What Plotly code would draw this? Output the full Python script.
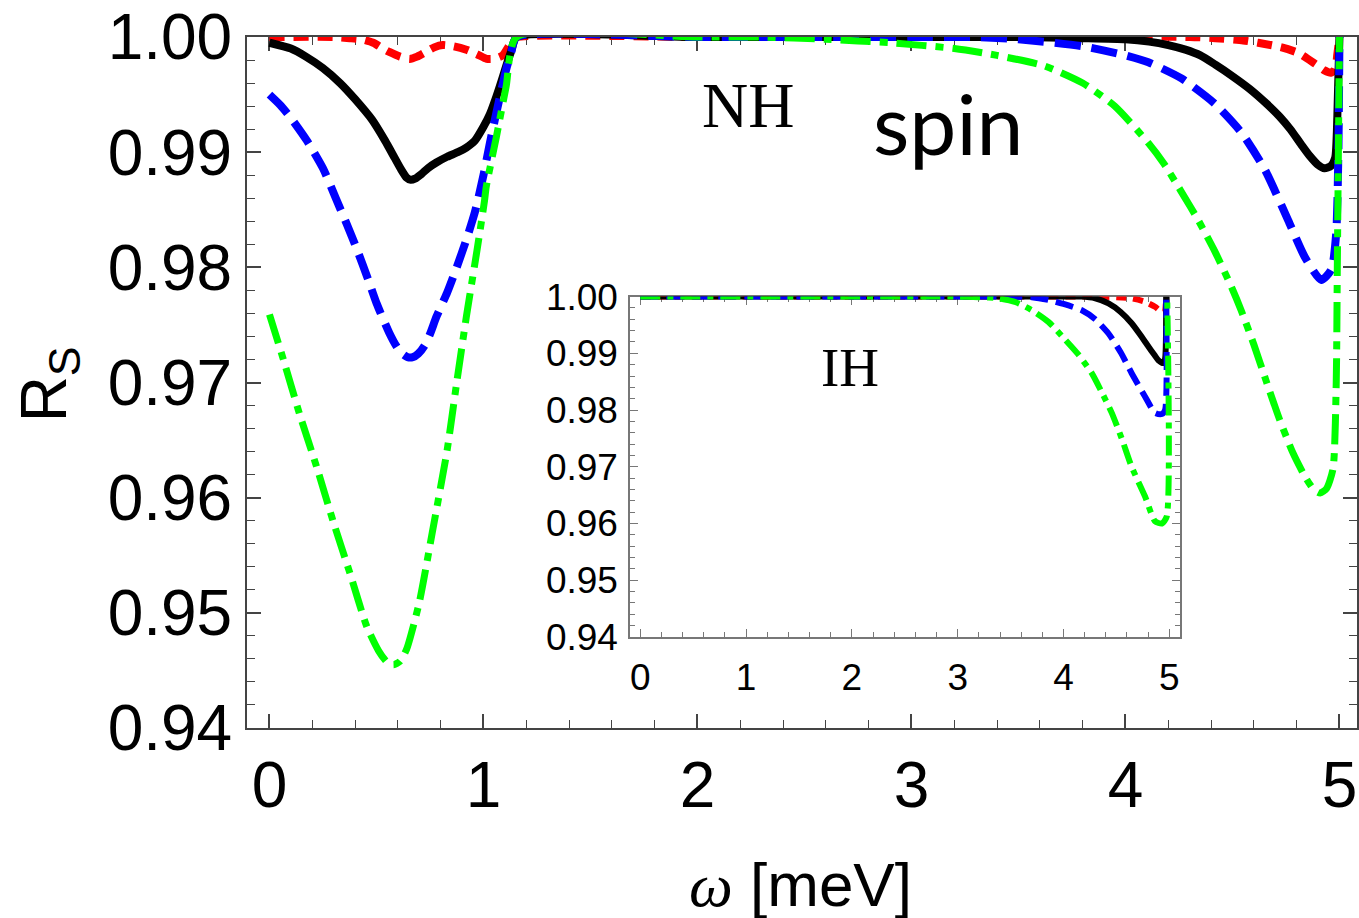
import plotly.graph_objects as go

# ---------------- data ----------------
# Main panel (NH)
nh_black_x = [0.00, 0.10, 0.17, 0.25, 0.33, 0.40, 0.48, 0.54, 0.585, 0.615, 0.64, 0.66, 0.68, 0.71, 0.74,
              0.78, 0.83, 0.88, 0.92, 0.96, 1.00, 1.03, 1.06, 1.09, 1.11, 1.13, 1.155, 2.00, 3.00, 3.50,
              3.80, 4.00, 4.11, 4.20, 4.28, 4.35, 4.42, 4.50, 4.58, 4.66, 4.72, 4.77, 4.82, 4.86, 4.90,
              4.93, 4.96, 4.98, 4.99, 5.00]
nh_black_y = [0.9995, 0.9990, 0.9983, 0.9973, 0.9960, 0.9946, 0.9928, 0.9910, 0.9895, 0.9885, 0.9878,
              0.9876, 0.9877, 0.9881, 0.9886, 0.9891, 0.9896, 0.9900, 0.9904, 0.9910, 0.9922, 0.9933,
              0.9948, 0.9965, 0.9977, 0.9988, 1.0000, 1.0000, 1.0000, 1.0000, 0.9999, 0.9998, 0.9996,
              0.9993, 0.9989, 0.9984, 0.9976, 0.9966, 0.9955, 0.9942, 0.9931, 0.9920, 0.9907, 0.9897,
              0.9889, 0.9886, 0.9888, 0.9895, 0.9930, 1.0000]

nh_red_x = [0.00, 0.30, 0.375, 0.43, 0.485, 0.53, 0.56, 0.61, 0.655, 0.69, 0.73, 0.77, 0.81, 0.86, 0.92,
            0.97, 1.015, 1.05, 1.09, 1.115, 1.135, 1.155, 2.00, 3.00, 4.30, 4.42, 4.55, 4.62, 4.73, 4.81,
            4.86, 4.90, 4.93, 4.96, 4.98, 4.99, 5.00]
nh_red_y = [1.0000, 1.0000, 0.9999, 0.9998, 0.9995, 0.9990, 0.9987, 0.9983, 0.9981, 0.9983, 0.9987,
            0.9991, 0.9993, 0.9992, 0.9989, 0.9985, 0.9981, 0.9981, 0.9984, 0.9991, 0.9997, 1.0000,
            1.0000, 1.0000, 1.0000, 0.9999, 0.9997, 0.9995, 0.9991, 0.9986, 0.9980, 0.9975, 0.9971,
            0.9969, 0.9972, 0.9985, 1.0000]

nh_blue_x = [0.00, 0.05, 0.095, 0.175, 0.25, 0.31, 0.36, 0.41, 0.46, 0.50, 0.56, 0.595, 0.62, 0.645,
             0.67, 0.695, 0.725, 0.75, 0.78, 0.83, 0.875, 0.92, 0.96, 1.00, 1.03, 1.06, 1.085, 1.105,
             1.13, 1.155, 2.00, 3.00, 3.30, 3.50, 3.80, 4.00, 4.107, 4.262, 4.418, 4.542, 4.651, 4.760,
             4.838, 4.915, 4.962, 4.985, 4.995, 5.00]
nh_blue_y = [0.9950, 0.9941, 0.9931, 0.9910, 0.9886, 0.9860, 0.9838, 0.9815, 0.9790, 0.9769, 0.9743,
             0.9731, 0.9725, 0.9722, 0.9722, 0.9725, 0.9732, 0.9742, 0.9757, 0.9778, 0.9800, 0.9824,
             0.9848, 0.9880, 0.9908, 0.9934, 0.9955, 0.9971, 0.9987, 1.0000, 1.0000, 1.0000, 1.0000,
             0.9998, 0.9992, 0.9984, 0.9978, 0.9964, 0.9942, 0.9917, 0.9885, 0.9841, 0.9809, 0.9789,
             0.9798, 0.9830, 0.9900, 1.0000]

nh_green_x = [0.00, 0.065, 0.14, 0.22, 0.30, 0.375, 0.455, 0.51, 0.55, 0.58, 0.61, 0.64, 0.70, 0.76, 0.83,
              0.875, 0.92, 0.97, 1.005, 1.013, 1.06, 1.106, 1.155, 2.00, 2.30, 2.60, 2.90, 3.20, 3.40,
              3.62, 3.80, 3.95, 4.107, 4.18, 4.26, 4.34, 4.42, 4.50, 4.54, 4.60, 4.66, 4.72, 4.78, 4.84,
              4.88, 4.91, 4.94, 4.97, 4.985, 4.99, 5.00]
nh_green_y = [0.9759, 0.9720, 0.9673, 0.9627, 0.9578, 0.9535, 0.9488, 0.9467, 0.9457, 0.9455, 0.9458,
              0.9468, 0.9509, 0.9569, 0.9641, 0.9700, 0.9757, 0.9815, 0.9858, 0.9870, 0.9913, 0.9957,
              1.0000, 1.0000, 1.0000, 0.9998, 0.9995, 0.9990, 0.9984, 0.9975, 0.9960, 0.9940, 0.9908,
              0.9890, 0.9866, 0.9841, 0.9813, 0.9781, 0.9763, 0.9733, 0.9700, 0.9668, 0.9640, 0.9618,
              0.9607, 0.9604, 0.9608, 0.9625, 0.9700, 0.9800, 1.0000]

# Inset (IH)
ih_black_x = [0.00, 2.00, 4.00, 4.17, 4.30, 4.425, 4.54, 4.644, 4.72, 4.802, 4.86, 4.896, 4.943, 4.96, 4.97]
ih_black_y = [1.0000, 1.0000, 1.0000, 1.0000, 0.9997, 0.9988, 0.9973, 0.9953, 0.9934, 0.9912, 0.9897,
              0.9888, 0.9883, 0.9890, 1.0000]

ih_red_x = [0.00, 2.00, 4.30, 4.50, 4.644, 4.77, 4.865, 4.943, 4.96, 4.97]
ih_red_y = [1.0000, 1.0000, 1.0000, 0.9999, 0.9997, 0.9991, 0.9982, 0.9971, 0.9975, 1.0000]

ih_blue_x = [0.00, 2.00, 3.50, 3.70, 3.86, 4.00, 4.173, 4.30, 4.425, 4.54, 4.644, 4.77, 4.865, 4.93,
             4.96, 4.97]
ih_blue_y = [1.0000, 1.0000, 1.0000, 0.9999, 0.9994, 0.9987, 0.9976, 0.9960, 0.9935, 0.9902, 0.9865,
             0.9824, 0.9795, 0.9793, 0.9800, 1.0000]

ih_green_x = [0.00, 2.00, 3.00, 3.20, 3.387, 3.55, 3.70, 3.86, 4.016, 4.14, 4.267, 4.36, 4.456, 4.55,
              4.644, 4.77, 4.865, 4.93, 4.975, 4.98]
ih_green_y = [1.0000, 1.0000, 1.0000, 0.9999, 0.9997, 0.9990, 0.9976, 0.9955, 0.9924, 0.9898, 0.9865,
              0.9832, 0.9795, 0.9750, 0.9700, 0.9648, 0.9604, 0.9600, 0.9612, 1.0000]

x_ticks = [0, 1, 2, 3, 4, 5]
y_ticks = [0.94, 0.95, 0.96, 0.97, 0.98, 0.99, 1.00]
y_tick_text = ["0.94", "0.95", "0.96", "0.97", "0.98", "0.99", "1.00"]

# ---------------- layout geometry ----------------
W, H = 1359, 918
L, R, T, B = 247, 0, 37, 190
PW, PH = W - L - R, H - T - B


def fx(px):
    return (px - L) / PW


def fy(py):
    return (H - B - py) / PH


RED, BLUE, GREEN, BLACK = "#ff0000", "#0000ff", "#00ff00", "#000000"

fig = go.Figure()

main_series = [
    (nh_red_x, nh_red_y, RED, "15px,9px", 8),
    (nh_black_x, nh_black_y, BLACK, "solid", 8),
    (nh_blue_x, nh_blue_y, BLUE, "26px,11px", 8),
    (nh_green_x, nh_green_y, GREEN, "30px,9px,8px,9px", 7),
]
for xs, ys, col, dash, w in main_series:
    fig.add_trace(go.Scatter(x=xs, y=ys, mode="lines", cliponaxis=False,
                             line=dict(color=col, width=w, dash=dash, shape="spline", smoothing=0.6),
                             xaxis="x", yaxis="y", showlegend=False))

inset_series = [
    (ih_red_x, ih_red_y, RED, "10px,7px", 6),
    (ih_black_x, ih_black_y, BLACK, "solid", 6),
    (ih_blue_x, ih_blue_y, BLUE, "18px,8px", 6),
    (ih_green_x, ih_green_y, GREEN, "20px,7px,6px,7px", 6),
]
for xs, ys, col, dash, w in inset_series:
    fig.add_trace(go.Scatter(x=xs, y=ys, mode="lines", cliponaxis=False,
                             line=dict(color=col, width=w, dash=dash, shape="spline", smoothing=0.6),
                             xaxis="x2", yaxis="y2", showlegend=False))

TICKFONT = dict(family="Liberation Sans, Arial, sans-serif", size=64, color="black")
INSETFONT = dict(family="Liberation Sans, Arial, sans-serif", size=37, color="black")
AX = "#444444"
AX2 = "#777777"

fig.update_layout(
    width=W, height=H,
    margin=dict(l=L, r=R, t=T, b=B, pad=0),
    paper_bgcolor="white", plot_bgcolor="white",
    xaxis=dict(domain=[0, 1], range=[-0.105, 5.082], tickvals=x_ticks, ticks="inside", ticklen=14,
               tickwidth=1.5, tickcolor=AX, showline=True, linecolor=AX, linewidth=2, mirror="ticks",
               showgrid=False, zeroline=False, tickfont=TICKFONT, layer="below traces",
               minor=dict(dtick=0.2, tick0=0, ticks="inside", ticklen=8, tickwidth=1.2, tickcolor=AX,
                          showgrid=False),
               anchor="y", ticklabelstandoff=0),
    yaxis=dict(domain=[0, 1], range=[0.94, 1.0], tickvals=y_ticks, ticktext=y_tick_text, ticks="inside",
               ticklen=14, tickwidth=1.5, tickcolor=AX, showline=True, linecolor=AX, linewidth=2,
               mirror="ticks", showgrid=False, zeroline=False, tickfont=TICKFONT, layer="below traces",
               minor=dict(dtick=0.002, tick0=0.94, ticks="inside", ticklen=8, tickwidth=1.2, tickcolor=AX,
                          showgrid=False),
               anchor="x", ticklabelstandoff=0),
    xaxis2=dict(domain=[fx(631), fx(1182)], range=[-0.094, 5.104], tickvals=x_ticks, ticks="inside",
                ticklen=8, tickwidth=1.2, tickcolor=AX2, showline=True, linecolor=AX2, linewidth=2,
                mirror="ticks", showgrid=False, zeroline=False, tickfont=INSETFONT, layer="below traces",
                minor=dict(dtick=0.2, tick0=0, ticks="inside", ticklen=5, tickwidth=1, tickcolor=AX2,
                           showgrid=False),
                anchor="y2", ticklabelstandoff=7),
    yaxis2=dict(domain=[fy(637), fy(296.6)], range=[0.94, 1.0], tickvals=y_ticks, ticktext=y_tick_text,
                ticks="inside", ticklen=8, tickwidth=1.2, tickcolor=AX2, showline=True, linecolor=AX2,
                linewidth=2, mirror="ticks", showgrid=False, zeroline=False, tickfont=INSETFONT,
                layer="below traces",
                minor=dict(dtick=0.002, tick0=0.94, ticks="inside", ticklen=5, tickwidth=1, tickcolor=AX2,
                           showgrid=False),
                anchor="x2", ticklabelstandoff=3),
)

# inset white background
fig.add_shape(type="rect", xref="paper", yref="paper", x0=fx(631), x1=fx(1182), y0=fy(637), y1=fy(296.6),
              fillcolor="white", line=dict(width=0), layer="below")

annotations = [
    dict(text="NH", x=fx(749), y=fy(106), font=dict(family="Liberation Serif, Times New Roman, serif",
                                                    size=64, color="black")),
    dict(text="spin", x=fx(950), y=fy(122), font=dict(family="Lato, Open Sans, sans-serif", size=84,
                                                      color="black")),
    dict(text="IH", x=fx(851), y=fy(367), font=dict(family="Liberation Serif, Times New Roman, serif",
                                                    size=55, color="black")),
    dict(text="<span style=\"font-family:'Liberation Serif'\"><i>ω</i></span> [meV]", x=fx(801), y=fy(884),
         font=dict(family="Liberation Sans, Arial, sans-serif", size=62, color="black")),
    dict(text="R<sub>S</sub>", x=fx(48), y=fy(384), textangle=-90,
         font=dict(family="Liberation Sans, Arial, sans-serif", size=64, color="black")),
]
for a in annotations:
    fig.add_annotation(xref="paper", yref="paper", showarrow=False, xanchor="center", yanchor="middle", **a)

fig.write_html("out.html")
